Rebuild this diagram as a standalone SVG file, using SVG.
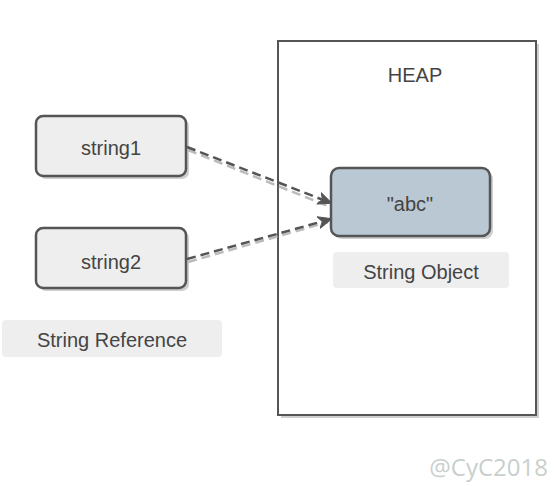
<svg xmlns="http://www.w3.org/2000/svg" width="556" height="486" viewBox="0 0 556 486">
<defs>
<marker id="ah" markerWidth="14" markerHeight="14" refX="13" refY="7" orient="auto" markerUnits="userSpaceOnUse" viewBox="0 0 14 14">
<path d="M0,1 L14,7 L0,13 L4,7 Z" fill="#555555" stroke="#555555" stroke-width="1" stroke-linejoin="round"/>
</marker>
</defs>
<style>
.box{fill:#eeeeee;stroke:#555555;stroke-width:2.5}
.shadow{fill:#bbbbbb;opacity:0.7}
.lbl{fill:#eeeeee}
.t{font-family:"Liberation Sans","DejaVu Sans",sans-serif;font-size:20px;fill:#444444;text-anchor:middle;dominant-baseline:central}
.edge{fill:none;stroke:#555555;stroke-width:2.5;stroke-dasharray:9 5}
.edgesh{fill:none;stroke:#bbbbbb;stroke-width:2.5;stroke-dasharray:9 5}
</style>
<rect width="556" height="486" fill="#ffffff"/>
<g id="heap">
<rect x="281" y="44" width="258" height="374" class="shadow"/>
<rect x="278" y="41" width="258" height="374" fill="#ffffff" stroke="#555555" stroke-width="2"/>
<text x="415" y="75" class="t">HEAP</text>
</g>
<g id="string1">
<rect x="39" y="119" width="150" height="60" rx="7" class="shadow"/>
<rect x="36" y="116" width="150" height="60" rx="7" class="box"/>
<text x="111" y="148" class="t">string1</text>
</g>
<g id="string2">
<rect x="39" y="231" width="150" height="60" rx="7" class="shadow"/>
<rect x="36" y="228" width="150" height="60" rx="7" class="box"/>
<text x="111" y="262" class="t">string2</text>
</g>
<g id="stringref">
<rect x="2" y="320" width="220" height="37" rx="4" class="lbl"/>
<text x="112" y="340" class="t">String Reference</text>
</g>
<g id="abc">
<rect x="334" y="171" width="159" height="68" rx="8" class="shadow"/>
<rect x="331" y="168" width="159" height="68" rx="8" fill="#bac8d3" stroke="#555555" stroke-width="2.5"/>
<text x="410" y="204" class="t">"abc"</text>
</g>
<g id="stringobj">
<rect x="333" y="252" width="176" height="36" rx="4" class="lbl"/>
<text x="421" y="272" class="t">String Object</text>
</g>
<g id="connectors">
<path d="M188,150 L328,206" class="edgesh"/>
<path d="M188,262 L328,222" class="edgesh"/>
<path d="M187,147 L331,203" class="edge" marker-end="url(#ah)"/>
<path d="M187,259 L331,219" class="edge" marker-end="url(#ah)"/>
</g>
<text x="548" y="466" font-family="'Open Sans','Liberation Sans',sans-serif" font-size="24" fill="#c8cfcd" text-anchor="end" dominant-baseline="central">@CyC2018</text>
</svg>
